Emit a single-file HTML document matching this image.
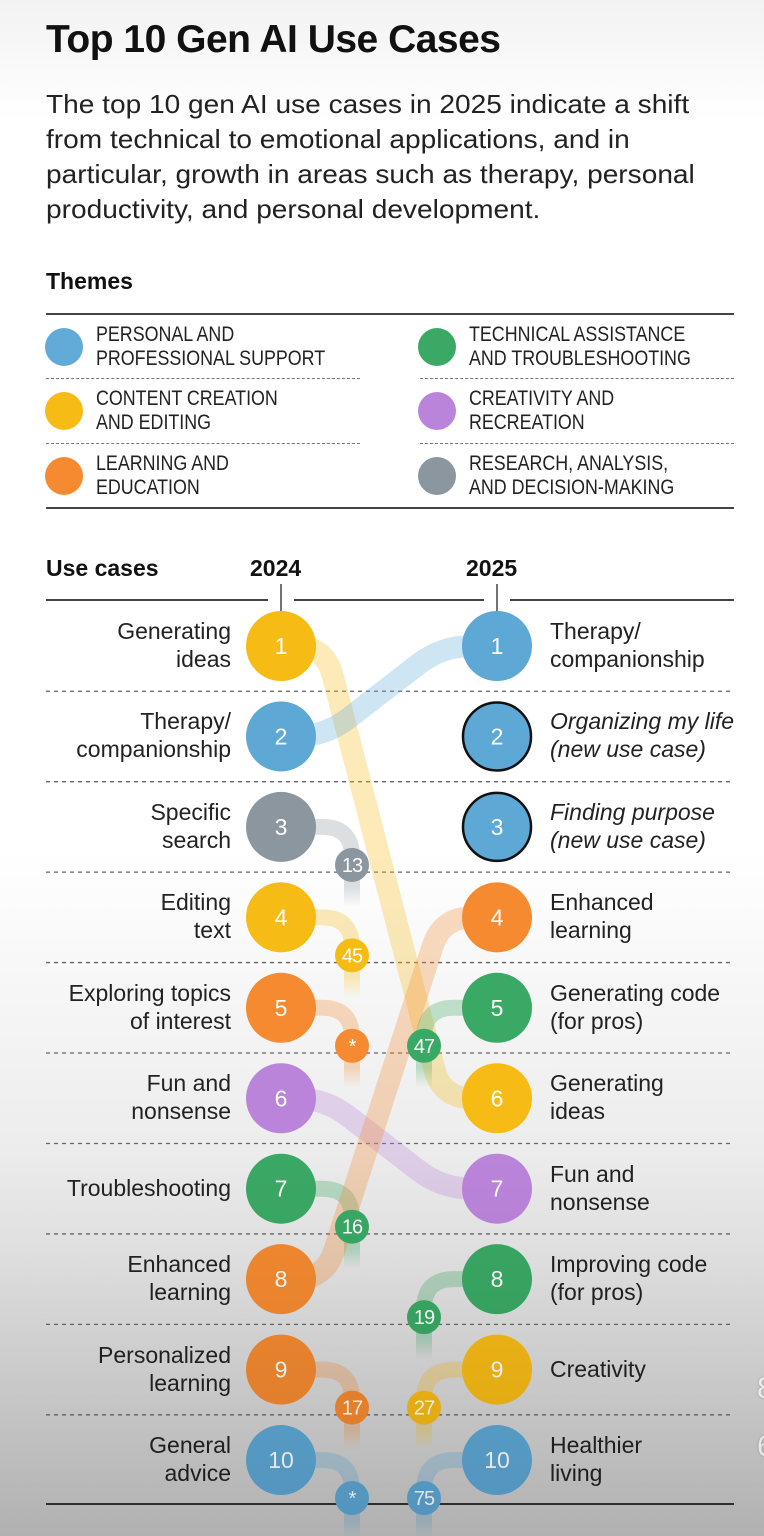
<!DOCTYPE html>
<html><head><meta charset="utf-8">
<style>
*{margin:0;padding:0;box-sizing:border-box}
body{width:764px;height:1536px;overflow:hidden;position:relative;font-family:"Liberation Sans",sans-serif;color:#111;
background:linear-gradient(180deg,#f2f2f2 0px,#ffffff 120px,#ffffff 850px,#e6e6e6 1250px,#c9c9c9 1536px)}
.abs{position:absolute}
h1{position:absolute;left:46px;top:18px;font-size:39px;font-weight:bold;letter-spacing:-0.5px}
.intro{position:absolute;left:46px;top:87px;font-size:26px;line-height:35px;width:720px;color:#222;white-space:nowrap;transform:scaleX(1.08);transform-origin:left top}
.themes{position:absolute;left:46px;top:268px;font-size:23px;font-weight:bold}
.leg{position:absolute;font-size:21px;line-height:24px;color:#222;transform:scaleX(0.85);transform-origin:left top;white-space:nowrap}
.dot{position:absolute;width:38px;height:38px;border-radius:50%}
.hl{position:absolute;height:0;border-top:2px solid #444}
.dl{position:absolute;height:0;border-top:1.5px dashed #777}
.lab{position:absolute;font-size:23px;line-height:28px;color:#222;white-space:nowrap}
</style></head><body>
<h1>Top 10 Gen AI Use Cases</h1>
<div class="intro">The top 10 gen AI use cases in 2025 indicate a shift<br>from technical to emotional applications, and in<br>particular, growth in areas such as therapy, personal<br>productivity, and personal development.</div>
<div class="themes">Themes</div>
<div class="hl" style="left:46px;top:313px;width:688px"></div>
<div class="dl" style="left:46px;top:378px;width:314px"></div>
<div class="dl" style="left:420px;top:378px;width:314px"></div>
<div class="dl" style="left:46px;top:443px;width:314px"></div>
<div class="dl" style="left:420px;top:443px;width:314px"></div>
<div class="hl" style="left:46px;top:507px;width:688px"></div>

<div>
<div class="dot" style="left:45px;top:328px;background:#62abd9"></div><div class="leg" style="left:96px;top:323px">PERSONAL AND<br>PROFESSIONAL SUPPORT</div></div>
<div>
<div class="dot" style="left:418px;top:328px;background:#3aa965"></div><div class="leg" style="left:469px;top:323px">TECHNICAL ASSISTANCE<br>AND TROUBLESHOOTING</div></div>
<div>
<div class="dot" style="left:45px;top:392px;background:#f7bb16"></div><div class="leg" style="left:96px;top:387px">CONTENT CREATION<br>AND EDITING</div></div>
<div>
<div class="dot" style="left:418px;top:392px;background:#bb84db"></div><div class="leg" style="left:469px;top:387px">CREATIVITY AND<br>RECREATION</div></div>
<div>
<div class="dot" style="left:45px;top:457px;background:#f58a30"></div><div class="leg" style="left:96px;top:452px">LEARNING AND<br>EDUCATION</div></div>
<div>
<div class="dot" style="left:418px;top:457px;background:#8c969e"></div><div class="leg" style="left:469px;top:452px">RESEARCH, ANALYSIS,<br>AND DECISION-MAKING</div></div>

<div class="abs" style="left:46px;top:555px;font-size:23px;font-weight:bold">Use cases</div>
<div class="abs" style="left:250px;top:555px;font-size:23px;font-weight:bold">2024</div>
<div class="abs" style="left:466px;top:555px;font-size:23px;font-weight:bold">2025</div>

<div class="abs" style="left:757px;top:1372px;font-size:30px;color:#fff;text-shadow:0 0 2px #999">8</div>
<div class="abs" style="left:757px;top:1430px;font-size:30px;color:#fff;text-shadow:0 0 2px #999">6</div>

<svg id="chart" class="abs" style="left:0;top:0" width="764" height="1536"></svg>
<div id="labels"></div>

<script>
const labels2024 = ["Generating<br>ideas","Therapy/<br>companionship","Specific<br>search","Editing<br>text","Exploring topics<br>of interest","Fun and<br>nonsense","Troubleshooting","Enhanced<br>learning","Personalized<br>learning","General<br>advice"];
const cats2024 = ["content","support","research","content","learning","creativity","technical","learning","learning","support"];
const next2025 = [6,1,13,45,"*",7,16,4,17,"*"];
const labels2025 = ["Therapy/<br>companionship","<i>Organizing my life<br>(new use case)</i>","<i>Finding purpose<br>(new use case)</i>","Enhanced<br>learning","Generating code<br>(for pros)","Generating<br>ideas","Fun and<br>nonsense","Improving code<br>(for pros)","Creativity","Healthier<br>living"];
const cats2025 = ["support","support","support","learning","technical","content","creativity","technical","content","support"];
const prev2024 = [2,"new","new",8,47,1,6,19,27,75];

const colors = {support:"#5ea8d6",content:"#f7bb16",learning:"#f58a30",technical:"#3aa965",creativity:"#bb84db",research:"#8c969e"};
const X1 = 281, X2 = 497, SX1 = 352, SX2 = 424;
const yRow = r => 646 + (r - 1) * 90.45;
const NS = "http://www.w3.org/2000/svg";
const svg = document.getElementById("chart");
function mk(tag, attrs, parent) {
  const e = document.createElementNS(NS, tag);
  for (const k in attrs) e.setAttribute(k, attrs[k]);
  (parent || svg).appendChild(e);
  return e;
}
const defs = mk("defs", {});
Object.keys(colors).forEach(k => {
  const g = mk("linearGradient", {id:"fade-" + k, x1:0, y1:0, x2:0, y2:1}, defs);
  mk("stop", {offset:"0", "stop-color":colors[k], "stop-opacity":0.3}, g);
  mk("stop", {offset:"0.6", "stop-color":colors[k], "stop-opacity":0.3}, g);
  mk("stop", {offset:"1", "stop-color":colors[k], "stop-opacity":0}, g);
});
for (let r = 1; r < 10; r++) {
  const y = (yRow(r) + yRow(r + 1)) / 2;
  const l = mk("line", {x1:46, x2:734, y1:y, y2:y, stroke:"#666", "stroke-width":1.3, "stroke-dasharray":"4 4"});
  
  
}
[[46,268],[294,484],[510,734]].forEach(s => {
  const l = mk("line", {x1:s[0], x2:s[1], y1:600, y2:600, stroke:"#444", "stroke-width":2});
  
  
});
[X1, X2].forEach(x => {
  const l = mk("line", {x1:x, x2:x, y1:584, y2:612, stroke:"#444", "stroke-width":1.5});
  
  
});
const bl = mk("line", {x1:46, x2:734, y1:1504, y2:1504, stroke:"#333", "stroke-width":2});



const bandG = mk("g", {});
function band(y1, y2, col) {
  const A = [325, y1], B = [442, y2], r = 30;
  const dx = B[0] - A[0], dy = B[1] - A[1], L = Math.hypot(dx, dy);
  const ux = dx / L, uy = dy / L;
  const d = `M${X1} ${y1} L${A[0]-r} ${y1} Q${A[0]} ${A[1]} ${A[0]+ux*r} ${A[1]+uy*r} L${B[0]-ux*r} ${B[1]-uy*r} Q${B[0]} ${B[1]} ${B[0]+r} ${y2} L${X2} ${y2}`;
  const p = mk("path", {d, fill:"none", stroke:col, "stroke-width":22, "stroke-opacity":0.3}, bandG);
  
  
}
function stubLeft(y, cat, txt) {
  const p1 = mk("path", {d:`M${X1} ${y} L${SX1-30} ${y} Q${SX1} ${y} ${SX1} ${y+30}`, fill:"none", stroke:colors[cat], "stroke-width":16, "stroke-opacity":0.3}, bandG);
  
  
  const p2 = mk("rect", {x:SX1-8, y:y+30, width:16, height:50, fill:`url(#fade-${cat})`}, bandG);
  
  
  smallDot(SX1, y + 38, colors[cat], txt);
}
function stubRight(y, cat, txt) {
  const p1 = mk("path", {d:`M${X2} ${y} L${SX2+30} ${y} Q${SX2} ${y} ${SX2} ${y+30}`, fill:"none", stroke:colors[cat], "stroke-width":16, "stroke-opacity":0.3}, bandG);
  
  
  const p2 = mk("rect", {x:SX2-8, y:y+30, width:16, height:50, fill:`url(#fade-${cat})`}, bandG);
  
  
  smallDot(SX2, y + 38, colors[cat], txt);
}
const dotG = mk("g", {});
function smallDot(x, y, col, txt) {
  const g = mk("g", {}, dotG);
  
  
  mk("circle", {cx:x, cy:y, r:17, fill:col}, g);
  const t = mk("text", {x, y:y+7, "text-anchor":"middle", fill:"#fff", "font-size":20, "font-family":"Liberation Sans, sans-serif", "letter-spacing":"-1"}, g);
  t.textContent = txt;
}
function bigDot(x, y, col, txt, ring) {
  const g = mk("g", {}, dotG);
  
  
  mk("circle", {cx:x, cy:y, r:ring ? 34 : 35, fill:col, stroke:ring ? "#111" : "none", "stroke-width":2.5}, g);
  const t = mk("text", {x, y:y+8, "text-anchor":"middle", fill:"#fff", "font-size":23, "font-family":"Liberation Sans, sans-serif"}, g);
  t.textContent = txt;
}

const labDiv = document.getElementById("labels");
for (let i = 0; i < 10; i++) {
  const y = yRow(i + 1), cat = cats2024[i], col = colors[cat], n = next2025[i];
  if (typeof n === "number" && n <= 10) band(y, yRow(n), col);
  else stubLeft(y, cat, String(n));
  bigDot(X1, y, col, String(i + 1), false);
  const d = document.createElement("div");
  d.className = "lab";
  
  
  d.style.right = (764 - 231) + "px";
  d.style.textAlign = "right";
  const lines = labels2024[i].split("<br>").length;
  d.style.top = (y - lines * 14 - 1) + "px";
  d.innerHTML = labels2024[i];
  labDiv.appendChild(d);
}
for (let i = 0; i < 10; i++) {
  const y = yRow(i + 1), cat = cats2025[i], col = colors[cat], p = prev2024[i];
  if (typeof p === "number" && p > 10) stubRight(y, cat, String(p));
  bigDot(X2, y, col, String(i + 1), p === "new");
  const d = document.createElement("div");
  d.className = "lab";
  
  
  d.style.left = "550px";
  const lines = labels2025[i].split("<br>").length;
  d.style.top = (y - lines * 14 - 1) + "px";
  d.innerHTML = labels2025[i];
  labDiv.appendChild(d);
}
</script>
<div class="abs" style="left:0;top:0;width:764px;height:1536px;pointer-events:none;background:linear-gradient(180deg,rgba(0,0,0,0) 1150px,rgba(0,0,0,0.12) 1536px)"></div>
</body></html>
